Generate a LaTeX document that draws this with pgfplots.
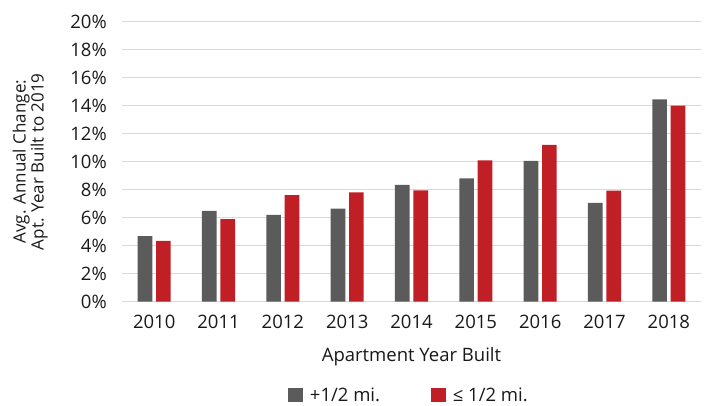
\documentclass[border=0pt]{standalone}
\usepackage{fontspec}
\setmainfont{Open Sans}
\usepackage{pgfplots}
\pgfplotsset{compat=1.18}
\definecolor{cgray}{RGB}{90,91,90}
\definecolor{cred}{RGB}{192,31,38}
\definecolor{cgrid}{RGB}{217,217,217}
\begin{document}
\begin{tikzpicture}
\begin{axis}[
  name=ax,
  at={(0,0)}, anchor=south west,
  scale only axis,
  width=579pt, height=280pt,
  xmin=-0.5, xmax=8.5,
  ymin=0, ymax=20,
  ybar=3.7pt,
  bar width=14.7pt,
  xtick={0,1,2,3,4,5,6,7,8},
  xticklabels={2010,2011,2012,2013,2014,2015,2016,2017,2018},
  ytick={0,2,...,20},
  yticklabels={0\%,2\%,4\%,6\%,8\%,10\%,12\%,14\%,16\%,18\%,20\%},
  ymajorgrids,
  grid style={cgrid, line width=1.2pt},
  axis x line*=bottom,
  axis y line*=left,
  x axis line style={cgrid, line width=1.2pt, -},
  y axis line style={draw=none},
  major tick length=0pt,
  tick label style={font=\fontsize{18.5}{20}\selectfont, text=black!90},
  yticklabel style={anchor=east, inner sep=0pt, xshift=-15pt},
  xticklabel style={anchor=north, inner sep=0pt, yshift=-13pt},
  xlabel={Apartment Year Built},
  xlabel style={font=\fontsize{18.5}{20}\selectfont, text=black!90, at={(rel axis cs:0.5,0)}, anchor=north, inner sep=0pt, yshift=-46pt},
  ylabel={Avg. Annual Change:\\Apt. Year Built to 2019},
  ylabel style={font=\fontsize{17}{15}\selectfont, text=black!90, align=center, at={(rel axis cs:0,0.5)}, anchor=south, inner sep=0pt, yshift=74pt},
  legend columns=2,
  legend style={draw=none, fill=none, at={(rel axis cs:0.5,0)}, anchor=center, yshift=-93.3pt,
    font=\fontsize{18.5}{20}\selectfont, text=black!90,
    /tikz/every even column/.append style={column sep=44pt},
    /tikz/every node/.append style={inner xsep=7pt, inner ysep=0pt}},
  legend image code/.code={\fill[#1] (0pt,-7.35pt) rectangle (14.7pt,7.35pt);},
]
\addplot[fill=cgray, draw=none] coordinates {
(0,4.69) (1,6.48) (2,6.21) (3,6.64) (4,8.34) (5,8.81) (6,10.05) (7,7.05) (8,14.46)};
\addplot[fill=cred, draw=none] coordinates {
(0,4.34) (1,5.90) (2,7.62) (3,7.81) (4,7.96) (5,10.10) (6,11.21) (7,7.93) (8,14.00)};
\legend{+1/2 mi.,≤ 1/2 mi.}
\end{axis}
\pgfresetboundingbox
\path ([xshift=-122pt,yshift=-104.3pt]ax.south west) rectangle ([xshift=10pt,yshift=21.7pt]ax.north east);
\end{tikzpicture}
\end{document}
